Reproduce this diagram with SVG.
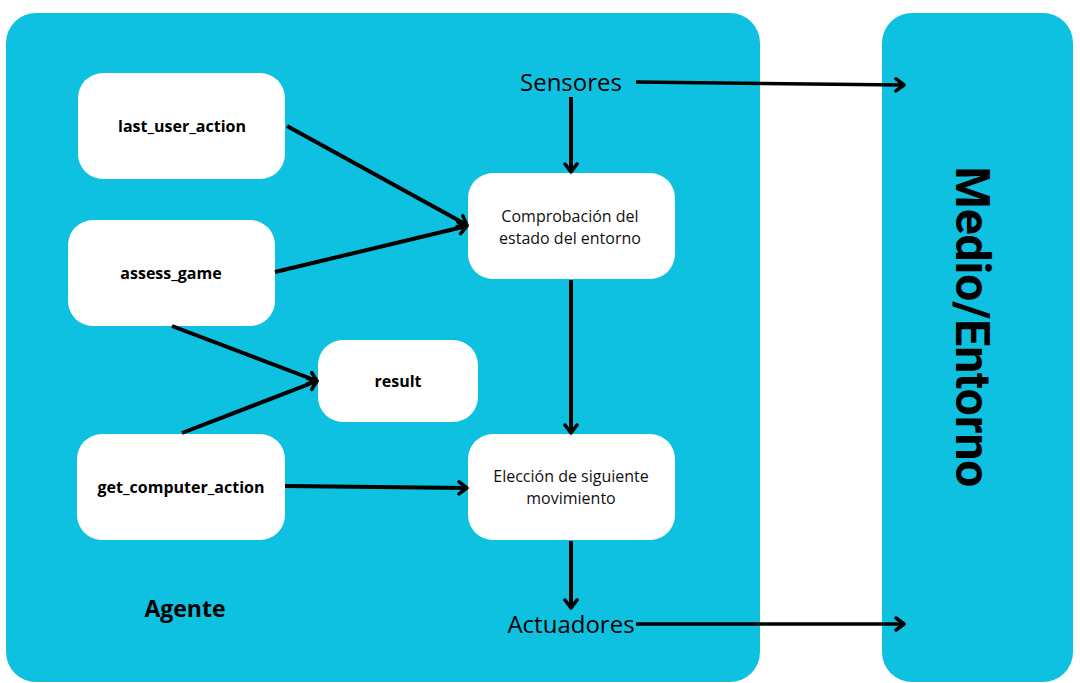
<svg xmlns="http://www.w3.org/2000/svg" width="1080" height="683" viewBox="0 0 1080 683">
<style>
.panel{fill:#0EC1E0}
.node{fill:#ffffff}
.lbl{font-family:"Open Sans","Liberation Sans",sans-serif;font-size:16px;font-weight:bold;fill:#000;text-anchor:middle}
.txt{font-family:"Open Sans","Liberation Sans",sans-serif;font-size:16px;fill:#111;text-anchor:middle}
.big{font-family:"Open Sans","Liberation Sans",sans-serif;font-size:24px;fill:#000;text-anchor:middle}
.conn line{stroke:#000;stroke-width:4;marker-end:url(#arr)}
</style>
<defs>
<marker id="arr" markerUnits="userSpaceOnUse" viewBox="0 0 16 16" markerWidth="16" markerHeight="16" refX="12" refY="8" orient="auto">
<path d="M4,2 L12,8 L4,14" fill="none" stroke="#000" stroke-width="3.5" stroke-linecap="round" stroke-linejoin="round"/>
</marker>
</defs>
<rect width="1080" height="683" fill="#ffffff"/>
<g id="agente">
<rect class="panel" x="6" y="13" width="754" height="669" rx="30"/>
<text x="185" y="617" class="lbl" style="font-size:23px">Agente</text>
</g>
<g id="medio">
<rect class="panel" x="882" y="13" width="191" height="669" rx="30"/>
<text transform="translate(972,327) rotate(90)" text-anchor="middle" dominant-baseline="central" font-family="Roboto,'Liberation Sans',sans-serif" font-weight="bold" font-size="48" fill="#000">Medio/Entorno</text>
</g>
<g id="last_user_action">
<rect class="node" x="78" y="73" width="207" height="106" rx="25"/>
<text x="182" y="132" class="lbl">last_user_action</text>
</g>
<g id="assess_game">
<rect class="node" x="68" y="220" width="207" height="106" rx="25"/>
<text x="171" y="279" class="lbl">assess_game</text>
</g>
<g id="result">
<rect class="node" x="318" y="340" width="160" height="82" rx="25"/>
<text x="398" y="387" class="lbl">result</text>
</g>
<g id="get_computer_action">
<rect class="node" x="77" y="434" width="208" height="106" rx="25"/>
<text x="181" y="493" class="lbl">get_computer_action</text>
</g>
<g id="comprobacion">
<rect class="node" x="468" y="173" width="207" height="106" rx="25"/>
<text x="570" y="222" class="txt">Comprobación del</text>
<text x="570" y="244" class="txt">estado del entorno</text>
</g>
<g id="eleccion">
<rect class="node" x="468" y="434" width="207" height="106" rx="25"/>
<text x="571" y="482" class="txt">Elección de siguiente</text>
<text x="571" y="504" class="txt">movimiento</text>
</g>
<g id="sensores">
<text x="571" y="91" class="big">Sensores</text>
</g>
<g id="actuadores">
<text x="571" y="633" class="big">Actuadores</text>
</g>
<g id="connectors" class="conn">
<line x1="287" y1="126" x2="467" y2="225"/>
<line x1="275" y1="272" x2="467" y2="226"/>
<line x1="571" y1="97" x2="571" y2="172"/>
<line x1="636" y1="82" x2="904" y2="85" style="stroke-width:3.5"/>
<line x1="571" y1="280" x2="571" y2="433"/>
<line x1="172" y1="326" x2="317" y2="381"/>
<line x1="182" y1="433" x2="317" y2="381"/>
<line x1="285" y1="486" x2="467" y2="488"/>
<line x1="571" y1="541" x2="571" y2="608"/>
<line x1="636" y1="624" x2="904" y2="624" style="stroke-width:3.5"/>
</g>
</svg>
